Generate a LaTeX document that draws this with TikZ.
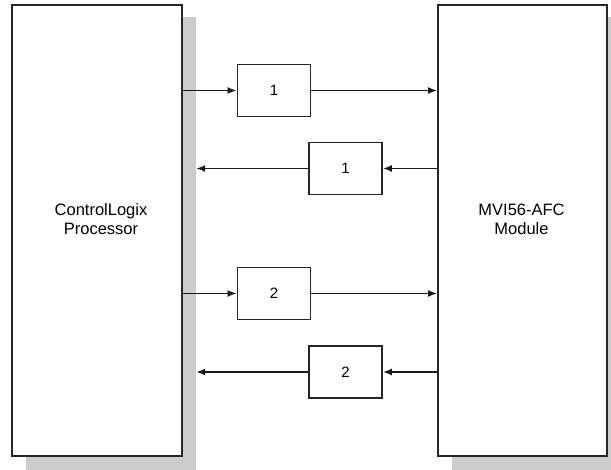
\documentclass[tikz,border=0pt]{standalone}
\usepackage{fontspec}
\setmainfont{Liberation Sans}
\usetikzlibrary{arrows.meta,calc}
\begin{document}
\begin{tikzpicture}[x=1pt,y=-1pt,
  bigbox/.style={draw=black!85,line width=2pt,fill=white,inner sep=0pt},
  shadowbox/.style={fill=black!20,draw=none,inner sep=0pt},
  smallbox/.style={draw=black!85,line width=1.8pt,fill=white,minimum width=73pt,minimum height=52pt,inner sep=0pt,font=\fontsize{15}{18}\selectfont},
  conn/.style={line width=1.6pt,draw=black!90,-{Latex[length=9pt,width=7pt]}},
  lbl/.style={align=center,font=\fontsize{16.5}{19}\selectfont}]
\useasboundingbox (0,0) rectangle (611,470);
\begin{scope}
\clip (0,0) rectangle (611,470);
% shadows
\path[shadowbox] (26,17) rectangle (196,470);
\node[shadowbox] (Lsh) at (189,243) [minimum width=14pt,minimum height=452pt] {};
\path[shadowbox] (452,17) rectangle (621,470);
\end{scope}
% main boxes
\node[bigbox,minimum width=170pt,minimum height=451pt] (L) at (97,230.5) {};
\node[bigbox,minimum width=169pt,minimum height=451pt] (R) at (522.5,230.5) {};
\node[lbl] (Ltxt) at (101,219) {ControlLogix\\Processor};
\node[lbl] (Rtxt) at (521.5,219) {MVI56-AFC\\Module};
% small boxes
\node[smallbox] (b1) at (274,90.5) {1};
\node[smallbox] (b2) at (345.5,168.5) {1};
\node[smallbox] (b3) at (274,293.5) {2};
\node[smallbox] (b4) at (345.5,372) {2};
% connectors
\draw[conn] (L.east |- b1.west) -- (b1.west);
\draw[conn] (b1.east) -- (R.west |- b1.east);
\draw[conn] (R.west |- b2.east) -- (b2.east);
\draw[conn] (b2.west) -- (Lsh.east |- b2.west);
\draw[conn] (L.east |- b3.west) -- (b3.west);
\draw[conn] (b3.east) -- (R.west |- b3.east);
\draw[conn] (R.west |- b4.east) -- (b4.east);
\draw[conn] (b4.west) -- (Lsh.east |- b4.west);
\end{tikzpicture}
\end{document}
